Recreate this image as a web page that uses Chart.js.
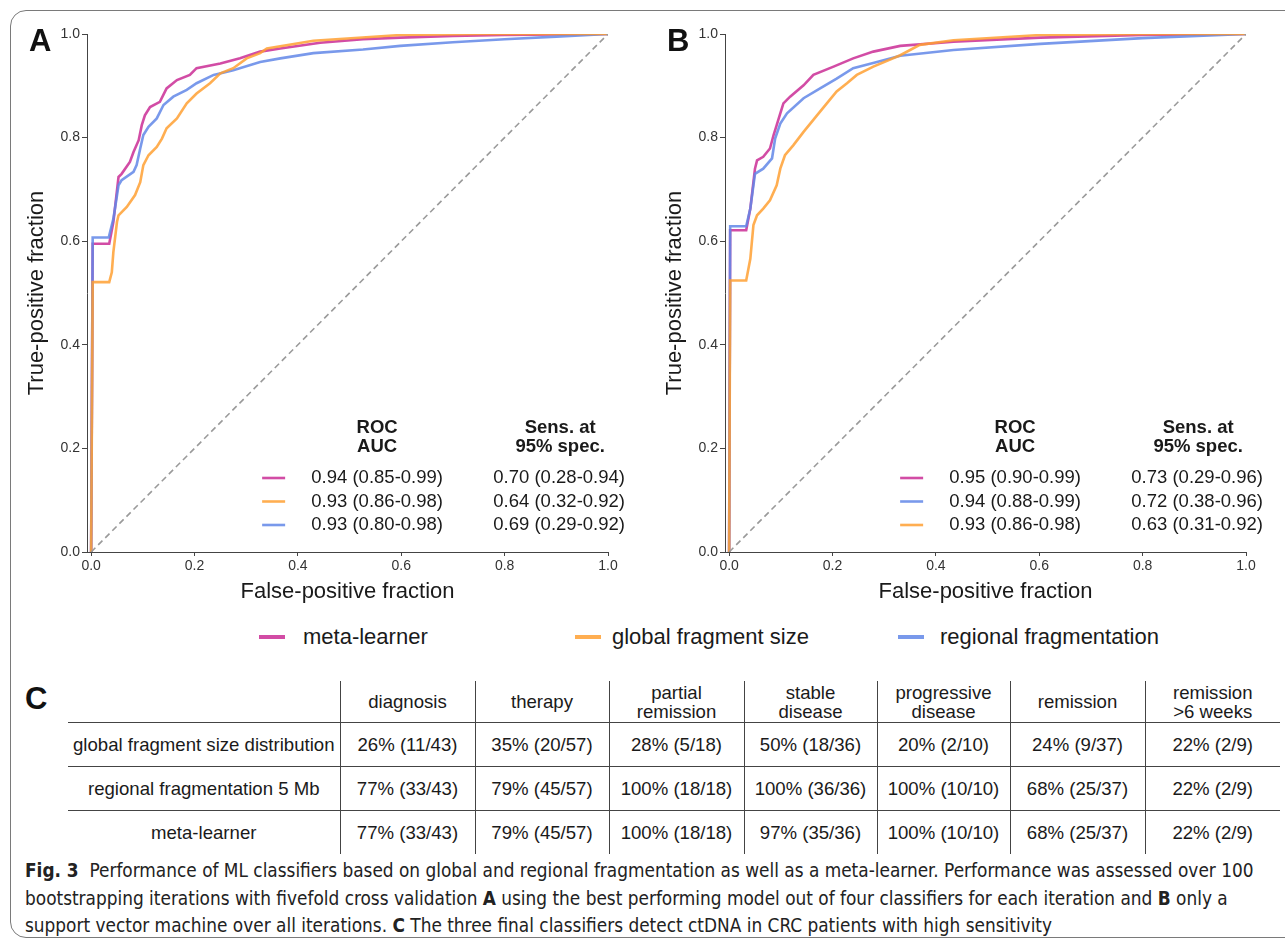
<!DOCTYPE html>
<html>
<head>
<meta charset="utf-8">
<script src="https://cdn.jsdelivr.net/npm/chart.js@4"></script>
<style>
  body { margin: 0; width: 1285px; height: 942px; overflow: hidden; background: #fff; position: relative;
         font-family: "Liberation Sans", Arial, sans-serif; color: #1a1a1a; }
  .frame { position: absolute; left: 10px; top: 10px; width: 1300px; height: 926px;
           border: 1px solid #7a7a7a; border-radius: 16px; }
  canvas { position: absolute; top: 0; }
  .panel { position: absolute; font-weight: bold; font-size: 31px; line-height: 1; color: #111; }
  .leg { position: absolute; top: 623px; font-size: 22px; line-height: 28px; }
  .sw { position: absolute; top: 635px; height: 4px; }
  table { position: absolute; left: 68px; top: 681px; border-collapse: collapse; table-layout: fixed;
          font-size: 18.6px; }
  td { text-align: center; vertical-align: middle; padding: 0; white-space: nowrap; height: 43px;
       border-left: 1px solid #444; line-height: 19px; }
  td:first-child { border-left: none; }
  tr.hd td { height: 41px; }
  tr.hd td, tr.r1 td, tr.r2 td { border-bottom: 1px solid #444; }
  .caption { position: absolute; left: 25px; top: 857px; font-family: "DejaVu Sans Condensed", sans-serif;
             font-size: 18.85px; line-height: 27.5px; white-space: nowrap; color: #222; }
</style>
</head>
<body>
<div class="frame"></div>
<canvas id="rocA" width="640" height="610" style="left:0"></canvas>
<canvas id="rocB" width="640" height="610" style="left:638px"></canvas>
<div class="panel" style="left:29px; top:25px">A</div>
<div class="panel" style="left:667px; top:25px">B</div>
<div class="panel" style="left:25px; top:683px">C</div>

<div id="legend"></div>
<table id="sens"></table>

<div class="caption">
  <b>Fig. 3</b>&nbsp; Performance of ML classifiers based on global and regional fragmentation as well as a meta-learner. Performance was assessed over 100<br>
  bootstrapping iterations with fivefold cross validation <b>A</b> using the best performing model out of four classifiers for each iteration and <b>B</b> only a<br>
  support vector machine over all iterations. <b>C</b> The three final classifiers detect ctDNA in CRC patients with high sensitivity
</div>

<script>
// series colours
const META = 'rgba(204, 51, 153, 0.88)';
const GLOBAL = 'rgba(255, 160, 50, 0.85)';
const REGIONAL = 'rgba(98, 135, 232, 0.85)';

const tickVals = [0, 0.2, 0.4, 0.6, 0.8, 1.0];

// Panel A (best model out of four classifiers)
const fprMetaA = [0, 0.003, 0.035, 0.043, 0.053, 0.059, 0.075, 0.082, 0.092, 0.098, 0.104, 0.114, 0.133, 0.146, 0.166, 0.191, 0.204, 0.25, 0.288, 0.327, 0.366, 0.443, 0.526, 0.598, 0.7, 0.8, 0.9, 1.0];
const tprMetaA = [0, 0.595, 0.595, 0.637, 0.724, 0.730, 0.753, 0.772, 0.795, 0.824, 0.843, 0.859, 0.869, 0.895, 0.911, 0.921, 0.934, 0.943, 0.953, 0.966, 0.972, 0.983, 0.990, 0.993, 0.996, 0.998, 0.999, 1.0];
const fprGlobalA = [0, 0.003, 0.035, 0.040, 0.043, 0.050, 0.053, 0.069, 0.085, 0.095, 0.101, 0.111, 0.127, 0.137, 0.146, 0.166, 0.185, 0.204, 0.230, 0.250, 0.275, 0.301, 0.327, 0.340, 0.430, 0.598, 0.75, 1.0];
const tprGlobalA = [0, 0.521, 0.521, 0.540, 0.579, 0.637, 0.650, 0.666, 0.689, 0.714, 0.747, 0.766, 0.782, 0.798, 0.818, 0.837, 0.866, 0.885, 0.905, 0.924, 0.934, 0.953, 0.963, 0.972, 0.987, 0.998, 1.0, 1.0];
const fprRegionalA = [0, 0.003, 0.034, 0.043, 0.053, 0.059, 0.082, 0.088, 0.095, 0.101, 0.111, 0.127, 0.140, 0.159, 0.185, 0.204, 0.237, 0.275, 0.327, 0.366, 0.430, 0.526, 0.598, 0.7, 0.8, 0.9, 1.0];
const tprRegionalA = [0, 0.607, 0.607, 0.643, 0.708, 0.718, 0.734, 0.747, 0.779, 0.805, 0.821, 0.837, 0.863, 0.879, 0.892, 0.905, 0.921, 0.930, 0.946, 0.953, 0.963, 0.970, 0.977, 0.984, 0.990, 0.995, 1.0];

// Panel B (support vector machine only)
const fprMetaB = [0, 0.002, 0.033, 0.041, 0.050, 0.054, 0.066, 0.079, 0.086, 0.092, 0.099, 0.105, 0.118, 0.144, 0.163, 0.202, 0.240, 0.279, 0.331, 0.434, 0.602, 0.8, 1.0];
const tprMetaB = [0, 0.621, 0.621, 0.663, 0.740, 0.756, 0.763, 0.779, 0.805, 0.824, 0.847, 0.866, 0.879, 0.901, 0.921, 0.937, 0.953, 0.966, 0.977, 0.985, 0.993, 0.998, 1.0];
const fprRegionalB = [0, 0.002, 0.033, 0.041, 0.050, 0.066, 0.083, 0.089, 0.099, 0.112, 0.144, 0.176, 0.208, 0.240, 0.286, 0.331, 0.434, 0.602, 0.8, 1.0];
const tprRegionalB = [0, 0.629, 0.629, 0.663, 0.730, 0.740, 0.760, 0.798, 0.827, 0.847, 0.876, 0.895, 0.914, 0.934, 0.946, 0.958, 0.969, 0.981, 0.992, 1.0];
const fprGlobalB = [0, 0.002, 0.033, 0.041, 0.047, 0.054, 0.066, 0.079, 0.092, 0.099, 0.108, 0.124, 0.144, 0.170, 0.189, 0.208, 0.228, 0.247, 0.279, 0.331, 0.369, 0.434, 0.602, 0.8, 1.0];
const tprGlobalB = [0, 0.524, 0.524, 0.566, 0.631, 0.650, 0.663, 0.679, 0.708, 0.740, 0.766, 0.785, 0.811, 0.843, 0.866, 0.889, 0.905, 0.921, 0.937, 0.959, 0.979, 0.988, 0.998, 1.0, 1.0];

// in-plot summary tables (row order as in the figure)
const aucA = ['0.94 (0.85-0.99)', '0.93 (0.86-0.98)', '0.93 (0.80-0.98)'];
const sensA = ['0.70 (0.28-0.94)', '0.64 (0.32-0.92)', '0.69 (0.29-0.92)'];
const rowColorsA = [META, GLOBAL, REGIONAL];
const aucB = ['0.95 (0.90-0.99)', '0.94 (0.88-0.99)', '0.93 (0.86-0.98)'];
const sensB = ['0.73 (0.29-0.96)', '0.72 (0.38-0.96)', '0.63 (0.31-0.92)'];
const rowColorsB = [META, REGIONAL, GLOBAL];

// panel C
const stages = ['diagnosis', 'therapy', 'partial<br>remission', 'stable<br>disease', 'progressive<br>disease', 'remission', 'remission<br>&gt;6 weeks'];
const classifiers = ['global fragment size distribution', 'regional fragmentation 5 Mb', 'meta-learner'];
const sensGlobal = ['26% (11/43)', '35% (20/57)', '28% (5/18)', '50% (18/36)', '20% (2/10)', '24% (9/37)', '22% (2/9)'];
const sensRegional = ['77% (33/43)', '79% (45/57)', '100% (18/18)', '100% (36/36)', '100% (10/10)', '68% (25/37)', '22% (2/9)'];
const sensMeta = ['77% (33/43)', '79% (45/57)', '100% (18/18)', '97% (35/36)', '100% (10/10)', '68% (25/37)', '22% (2/9)'];
const colWidths = [272, 135, 134, 135, 133, 133, 135, 135];

const legendItems = [
  { label: 'meta-learner', color: META, sw: 259, tx: 303 },
  { label: 'global fragment size', color: GLOBAL, sw: 575, tx: 612 },
  { label: 'regional fragmentation', color: REGIONAL, sw: 898, tx: 940 }
];

function pts(xs, ys) {
  return xs.map((x, i) => ({ x: x, y: ys[i] }));
}

function line(label, xs, ys, color) {
  return {
    label: label,
    data: pts(xs, ys),
    borderColor: color,
    borderWidth: 2.6,
    pointRadius: 0,
    fill: false,
    tension: 0
  };
}

// draws the AUC / sensitivity block inside a panel
const rocTable = {
  id: 'rocTable',
  afterDraw(chart, args, opts) {
    const ctx = chart.ctx;
    const x0 = chart.scales.x.getPixelForValue(0);
    ctx.save();
    ctx.fillStyle = '#1a1a1a';
    ctx.textAlign = 'center';
    ctx.textBaseline = 'middle';
    ctx.font = 'bold 18.5px "Liberation Sans", Arial, sans-serif';
    ctx.fillText('ROC', x0 + 286, 428);
    ctx.fillText('AUC', x0 + 286, 447);
    ctx.fillText('Sens. at', x0 + 469, 428);
    ctx.fillText('95% spec.', x0 + 469, 447);
    ctx.font = '18.5px "Liberation Sans", Arial, sans-serif';
    opts.auc.forEach((t, i) => {
      const y = 478 + i * 23.5;
      ctx.strokeStyle = opts.colors[i];
      ctx.lineWidth = 2.6;
      ctx.beginPath();
      ctx.moveTo(x0 + 171, y);
      ctx.lineTo(x0 + 194, y);
      ctx.stroke();
      ctx.fillText(t, x0 + 286, y);
      ctx.fillText(opts.sens[i], x0 + 468, y);
    });
    ctx.restore();
  }
};

function makeChart(id, datasets, auc, sens, colors) {
  return new Chart(document.getElementById(id), {
    type: 'line',
    data: {
      datasets: [
        {
          label: 'chance',
          data: [{ x: 0, y: 0 }, { x: 1, y: 1 }],
          borderColor: '#9a9a9a',
          borderWidth: 1.6,
          borderDash: [6, 4],
          pointRadius: 0
        }
      ].concat(datasets)
    },
    options: {
      responsive: false,
      animation: false,
      layout: { padding: { left: 20, top: 34, right: 32, bottom: 1 } },
      plugins: {
        legend: { display: false },
        tooltip: { enabled: false },
        rocTable: { auc: auc, sens: sens, colors: colors }
      },
      scales: {
        x: {
          type: 'linear',
          min: -0.008,
          max: 1,
          afterBuildTicks: s => { s.ticks = tickVals.map(v => ({ value: v })); },
          afterFit: s => { s.height = 57; },
          ticks: { callback: v => v.toFixed(1), font: { size: 14, family: 'Liberation Sans' }, color: '#333', padding: 2, maxRotation: 0 },
          grid: { drawOnChartArea: false, drawTicks: true, tickLength: 4, color: '#444' },
          border: { display: true, color: '#444', width: 1 },
          title: { display: true, text: 'False-positive fraction', font: { size: 22, family: 'Liberation Sans' }, color: '#1a1a1a' }
        },
        y: {
          type: 'linear',
          min: 0,
          max: 1,
          afterBuildTicks: s => { s.ticks = tickVals.map(v => ({ value: v })); },
          afterFit: s => { s.width = 67; },
          ticks: { callback: v => v.toFixed(1), font: { size: 14, family: 'Liberation Sans' }, color: '#333', padding: 2 },
          grid: { drawOnChartArea: false, drawTicks: true, tickLength: 5, color: '#444' },
          border: { display: true, color: '#444', width: 1 },
          title: { display: true, text: 'True-positive fraction', font: { size: 22, family: 'Liberation Sans' }, color: '#1a1a1a' }
        }
      }
    },
    plugins: [rocTable]
  });
}

makeChart('rocA', [
  line('global fragment size', fprGlobalA, tprGlobalA, GLOBAL),
  line('regional fragmentation', fprRegionalA, tprRegionalA, REGIONAL),
  line('meta-learner', fprMetaA, tprMetaA, META)
], aucA, sensA, rowColorsA);

makeChart('rocB', [
  line('global fragment size', fprGlobalB, tprGlobalB, GLOBAL),
  line('regional fragmentation', fprRegionalB, tprRegionalB, REGIONAL),
  line('meta-learner', fprMetaB, tprMetaB, META)
], aucB, sensB, rowColorsB);

// shared legend
const legend = document.getElementById('legend');
legend.innerHTML = legendItems.map(it =>
  `<div class="sw" style="left:${it.sw}px; width:26px; background:${it.color}"></div>` +
  `<div class="leg" style="left:${it.tx}px">${it.label}</div>`
).join('');

// sensitivity table
const rows = [sensGlobal, sensRegional, sensMeta];
let html = '<colgroup>' + colWidths.map(w => `<col style="width:${w}px">`).join('') + '</colgroup>';
html += '<tr class="hd"><td></td>' + stages.map(s => `<td>${s}</td>`).join('') + '</tr>';
rows.forEach((r, i) => {
  html += `<tr class="r${i + 1}"><td>${classifiers[i]}</td>` + r.map(v => `<td>${v}</td>`).join('') + '</tr>';
});
document.getElementById('sens').innerHTML = html;
</script>
</body>
</html>
